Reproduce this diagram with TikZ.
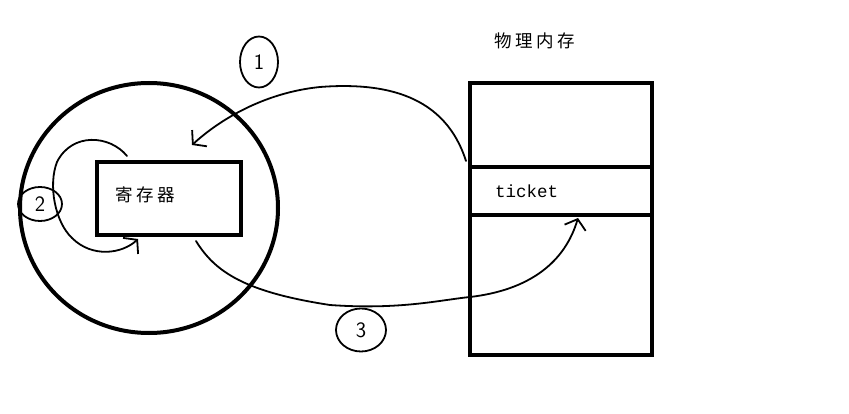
\documentclass[tikz,border=0pt]{standalone}
\usepackage{fontspec}
\newfontfamily\cjk[LetterSpace=20]{Noto Sans CJK SC}
\setmonofont{Liberation Mono}
\usetikzlibrary{shapes.geometric,arrows.meta}
\begin{document}
\begin{tikzpicture}[x=1pt,y=-1pt,
  thick box/.style={draw,line width=4pt,rectangle,inner sep=0pt},
  hand/.style={line width=1.8pt,line cap=round,line join=round},
  handarrow/.style={hand,-{Straight Barb[length=9pt,width=22pt,line width=1.8pt]}},
  tag/.style={draw,line width=1.8pt,ellipse,inner sep=0pt,font=\sffamily\fontsize{22}{22}\selectfont}]
\useasboundingbox[fill=white] (0,0) rectangle (849,414);

% CPU circle
\node[draw,line width=4pt,ellipse,minimum width=258,minimum height=250] (cpu) at (149,208) {};
% register
\node[thick box,minimum width=144,minimum height=73,text width=108,align=left,inner xsep=18pt]
  (reg) at (169,198.5) {\raisebox{8pt}{\cjk\fontsize{17.5}{17.5}\selectfont 寄存器}};
% memory
\node[thick box,minimum width=182,minimum height=272] (mem) at (561,219) {};
\node[thick box,minimum width=182,minimum height=48,text width=132,align=left,inner xsep=25pt]
  (ticket) at (561,191) {\ttfamily\fontsize{17.5}{17.5}\selectfont ticket};
\node[anchor=south west,inner sep=0pt] (memlabel) at (494,49) {\cjk\fontsize{17.5}{17.5}\selectfont 物理内存};

% tags
\node[tag,minimum width=38,minimum height=51] (t1) at (259,62) {1};
\node[tag,minimum width=44,minimum height=34] (t2) at (40,204) {2};
\node[tag,minimum width=50,minimum height=43] (t3) at (361,330) {3};

% coordinates
\coordinate (a1s) at ([shift={(-2,-4)}]ticket.north west);
\coordinate (a1e) at ([shift={(97,-15)}]reg.north west);
\coordinate (a2s) at ([shift={(32,-4)}]reg.north west);
\coordinate (a2e) at ([shift={(43,2)}]reg.south west);
\coordinate (a3s) at ([shift={(101,4)}]reg.south west);
\coordinate (a3e) at ([shift={(110,1)}]ticket.south west);

% arrow 1
\draw[handarrow] (a1s) .. controls (445,95) and (385,82) .. (320,87)
  .. controls (270,92) and (225,115) .. (a1e);
% arrow 2
\draw[handarrow] (a2s) .. controls (110,135) and (72,132) .. (57,162)
  .. controls (48,185) and (55,222) .. (72,238)
  .. controls (92,258) and (122,254) .. (a2e);
% arrow 3
\draw[handarrow] (a3s) .. controls (215,272) and (245,292) .. (330,305)
  .. controls (400,310) and (440,300) .. (470,297)
  .. controls (530,290) and (565,262) .. (a3e);
\end{tikzpicture}
\end{document}
